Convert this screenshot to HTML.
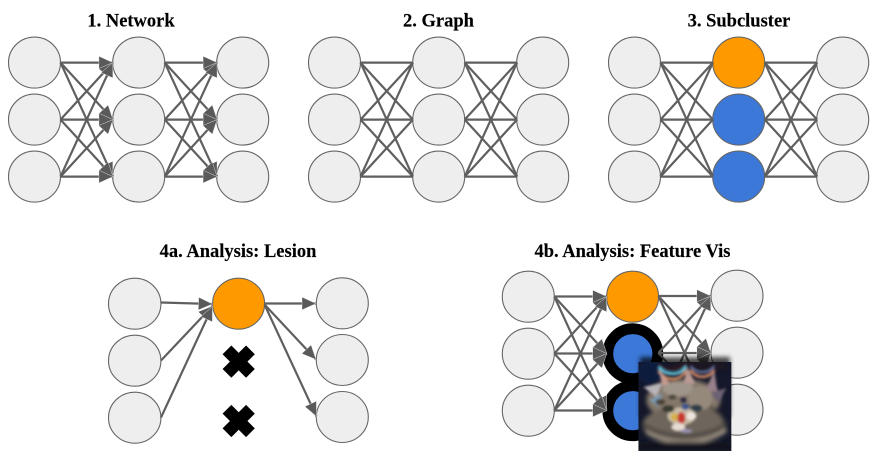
<!DOCTYPE html>
<html><head><meta charset="utf-8"><style>
html,body{margin:0;padding:0;background:#fff;width:881px;height:460px;overflow:hidden}
svg{display:block}
#root{filter:blur(.3px)}
text{font-family:"Liberation Serif",serif;font-weight:bold;font-size:18.5px;text-anchor:middle;fill:#000;stroke:#000;stroke-width:.15}
.n ellipse{fill:#eee;stroke:#666;stroke-width:1.1}
.n ellipse.o{fill:#f90}
.n ellipse.b{fill:#3c78d8}
.e line{stroke:#5f5f5f;stroke-width:2.2}
.a line{marker-end:url(#h)}
</style></head><body>
<svg id="root" width="881" height="460" viewBox="0 0 881 460" xmlns="http://www.w3.org/2000/svg">
<defs>
<marker id="h" markerUnits="userSpaceOnUse" markerWidth="18" markerHeight="16" refX="15" refY="8" orient="auto"><path d="M1 1.6L15 8L1 14.4Z" fill="#5a5a5a" stroke="#fff" stroke-width=".35"/></marker>
<g id="E" stroke="#5f5f5f" stroke-width="2.2">
<line x1="0" y1="0" x2="52.4" y2="0"/><line x1="0" y1="0" x2="52.4" y2="57"/><line x1="0" y1="0" x2="52.4" y2="114"/>
<line x1="0" y1="57" x2="52.4" y2="0"/><line x1="0" y1="57" x2="52.4" y2="57"/><line x1="0" y1="57" x2="52.4" y2="114"/>
<line x1="0" y1="114" x2="52.4" y2="0"/><line x1="0" y1="114" x2="52.4" y2="57"/><line x1="0" y1="114" x2="52.4" y2="114"/>
</g>
<g id="A" stroke="#5f5f5f" stroke-width="2.2" marker-end="url(#h)">
<line x1="0" y1="0" x2="52.4" y2="0"/><line x1="0" y1="0" x2="52.4" y2="57"/><line x1="0" y1="0" x2="52.4" y2="114"/>
<line x1="0" y1="57" x2="52.4" y2="0"/><line x1="0" y1="57" x2="52.4" y2="57"/><line x1="0" y1="57" x2="52.4" y2="114"/>
<line x1="0" y1="114" x2="52.4" y2="0"/><line x1="0" y1="114" x2="52.4" y2="57"/><line x1="0" y1="114" x2="52.4" y2="114"/>
</g>
<filter id="s" x="-30%" y="-30%" width="160%" height="160%"><feGaussianBlur stdDeviation="2.5"/></filter>
<filter id="c1" x="-20%" y="-20%" width="140%" height="140%"><feGaussianBlur stdDeviation="2.2"/></filter>
<filter id="c2" x="-20%" y="-20%" width="140%" height="140%"><feGaussianBlur stdDeviation="1.2"/></filter>
<clipPath id="cc"><rect width="93" height="89"/></clipPath>
</defs>

<text x="131" y="26.5">1. Network</text>
<text x="438.5" y="26.5">2. Graph</text>
<text x="739" y="26.5">3. Subcluster</text>
<text x="238" y="257">4a. Analysis: Lesion</text>
<text x="632.5" y="257">4b. Analysis: Feature Vis</text>

<!-- Panel 1 -->
<g class="n">
<ellipse cx="34.5" cy="62.6" rx="26" ry="25.5"/><ellipse cx="34.5" cy="119.6" rx="26" ry="25.5"/><ellipse cx="34.5" cy="176.6" rx="26" ry="25.5"/>
<ellipse cx="138.7" cy="62.6" rx="26" ry="25.5"/><ellipse cx="138.7" cy="119.6" rx="26" ry="25.5"/><ellipse cx="138.7" cy="176.6" rx="26" ry="25.5"/>
<ellipse cx="242.7" cy="62.6" rx="26" ry="25.5"/><ellipse cx="242.7" cy="119.6" rx="26" ry="25.5"/><ellipse cx="242.7" cy="176.6" rx="26" ry="25.5"/>
</g>
<use href="#A" transform="translate(60.5,62.6)"/><use href="#A" transform="translate(164.7,62.6)"/>

<!-- Panel 2 -->
<g class="n">
<ellipse cx="334.5" cy="62.6" rx="26" ry="25.5"/><ellipse cx="334.5" cy="119.6" rx="26" ry="25.5"/><ellipse cx="334.5" cy="176.6" rx="26" ry="25.5"/>
<ellipse cx="438.7" cy="62.6" rx="26" ry="25.5"/><ellipse cx="438.7" cy="119.6" rx="26" ry="25.5"/><ellipse cx="438.7" cy="176.6" rx="26" ry="25.5"/>
<ellipse cx="542.7" cy="62.6" rx="26" ry="25.5"/><ellipse cx="542.7" cy="119.6" rx="26" ry="25.5"/><ellipse cx="542.7" cy="176.6" rx="26" ry="25.5"/>
</g>
<use href="#E" transform="translate(360.5,62.6)"/><use href="#E" transform="translate(464.7,62.6)"/>

<!-- Panel 3 -->
<g class="n">
<ellipse cx="634.5" cy="62.6" rx="26" ry="25.5"/><ellipse cx="634.5" cy="119.6" rx="26" ry="25.5"/><ellipse cx="634.5" cy="176.6" rx="26" ry="25.5"/>
<ellipse class="o" cx="738.7" cy="62.6" rx="26" ry="25.5"/><ellipse class="b" cx="738.7" cy="119.6" rx="26" ry="25.5"/><ellipse class="b" cx="738.7" cy="176.6" rx="26" ry="25.5"/>
<ellipse cx="842.7" cy="62.6" rx="26" ry="25.5"/><ellipse cx="842.7" cy="119.6" rx="26" ry="25.5"/><ellipse cx="842.7" cy="176.6" rx="26" ry="25.5"/>
</g>
<use href="#E" transform="translate(660.5,62.6)"/><use href="#E" transform="translate(764.7,62.6)"/>

<!-- Panel 4a -->
<g class="n">
<ellipse cx="134.7" cy="303.7" rx="26.2" ry="25.5"/><ellipse cx="134.7" cy="360.7" rx="26.2" ry="25.5"/><ellipse cx="134.7" cy="417.7" rx="26.2" ry="25.5"/>
<ellipse class="o" cx="238.6" cy="303.7" rx="26" ry="25.5"/>
<ellipse cx="342.3" cy="303.3" rx="26" ry="25.5"/><ellipse cx="342.3" cy="360" rx="26" ry="25.5"/><ellipse cx="342.3" cy="417" rx="26" ry="25.5"/>
</g>
<g class="e a">
<line x1="161" y1="302.5" x2="212.5" y2="304"/>
<line x1="161" y1="360.5" x2="212.5" y2="306"/>
<line x1="161" y1="417.5" x2="212.5" y2="306.5"/>
<line x1="264.5" y1="303.5" x2="316" y2="303.5"/>
<line x1="264.5" y1="304.5" x2="316" y2="359.5"/>
<line x1="264.5" y1="304.5" x2="316.5" y2="416.5"/>
</g>
<g fill="#000">
<g transform="translate(238.7,361.6) rotate(45)"><rect x="-16.6" y="-6.2" width="33.2" height="12.4"/><rect x="-6.2" y="-16.6" width="12.4" height="33.2"/></g>
<g transform="translate(238.7,421) rotate(45)"><rect x="-16.6" y="-6.2" width="33.2" height="12.4"/><rect x="-6.2" y="-16.6" width="12.4" height="33.2"/></g>
</g>

<!-- Panel 4b -->
<g class="n">
<ellipse cx="528.3" cy="296.7" rx="26" ry="25.5"/><ellipse cx="528.3" cy="353.7" rx="26" ry="25.5"/><ellipse cx="528.3" cy="410.7" rx="26" ry="25.5"/>
<ellipse cx="737" cy="295.7" rx="26" ry="25.5"/><ellipse cx="737" cy="352.7" rx="26" ry="25.5"/><ellipse cx="737" cy="409.7" rx="26" ry="25.5"/>
<ellipse class="o" cx="632.6" cy="296.7" rx="26" ry="25.5"/>
</g>
<circle cx="632.8" cy="353.7" r="25" fill="#3c78d8" stroke="#000" stroke-width="10.8"/>
<circle cx="632.8" cy="410.7" r="25" fill="#3c78d8" stroke="#000" stroke-width="10.8"/>
<use href="#A" transform="translate(554.3,296.5)"/><use href="#A" transform="translate(658.4,296)"/>

<!-- Feature visualisation image -->
<rect x="640" y="357" width="90" height="60" fill="#000" opacity=".7" filter="url(#s)"/>
<g transform="translate(638.4,362)">
<svg width="93" height="89" viewBox="0 0 93 89">
<g clip-path="url(#cc)">
<rect width="93" height="89" fill="#14182a"/>
<g filter="url(#c1)">
<ellipse cx="12" cy="10" rx="14" ry="12" fill="#0c1a3c"/>
<ellipse cx="60" cy="4" rx="30" ry="6" fill="#1a1420"/>
<ellipse cx="45" cy="38" rx="37" ry="21" fill="#85786a"/>
<ellipse cx="46" cy="63" rx="42" ry="19" fill="#6e665c"/>
<path d="M4 62C25 78 70 78 90 60" stroke="#2c2b30" stroke-width="2.5" fill="none"/>
<path d="M8 70C28 84 68 84 88 68" stroke="#a09484" stroke-width="3.5" fill="none"/>
<path d="M70 44C82 50 86 56 86 62" stroke="#2c2b30" stroke-width="2.5" fill="none"/>
<rect x="0" y="80" width="93" height="9" fill="#101018" opacity=".8"/>
</g>
<g filter="url(#c2)">
<path d="M20 9C28 20 42 20 48 8" stroke="#c8855c" stroke-width="3" fill="none"/>
<path d="M20 5C28 14 42 14 48 4" stroke="#62c1d6" stroke-width="3" fill="none"/>
<path d="M20 2C28 9 42 9 48 1" stroke="#3a1a20" stroke-width="2" fill="none"/>
<path d="M52 8C58 17 70 17 76 8" stroke="#c08060" stroke-width="3" fill="none"/>
<path d="M52 4C58 12 70 12 76 4" stroke="#5d6f9c" stroke-width="2.5" fill="none"/>
<path d="M20 7L24 24L32 22Z" fill="#c49a90"/>
<path d="M49 5L45 22L57 22Z" fill="#b99a94"/>
<path d="M76 9L67 28L79 30Z" fill="#98808a"/>
<path d="M5 25L24 21L18 35Z" fill="#b8b4b8"/>
<path d="M11 38L24 31L20 45Z" fill="#7a9ab2"/>
<path d="M72 31L88 26L80 41Z" fill="#6c6274"/>
<ellipse cx="40" cy="27" rx="16" ry="7" fill="#a0958a"/>
<ellipse cx="62" cy="36" rx="12" ry="12" fill="#95897b"/>
<ellipse cx="43" cy="54" rx="14" ry="9" fill="#c8bba5"/>
<ellipse cx="22" cy="40" rx="5" ry="3" fill="#4b4538"/>
<ellipse cx="34" cy="35" rx="4" ry="2.5" fill="#4b4538"/>
<ellipse cx="30" cy="47" rx="6" ry="3.5" fill="#3b3a30"/>
<ellipse cx="58" cy="46" rx="6" ry="3.5" fill="#2e3e48"/>
<ellipse cx="45" cy="38" rx="3" ry="3" fill="#2a2a40"/>
<ellipse cx="47" cy="45" rx="4" ry="3" fill="#3a5590"/>
<ellipse cx="36" cy="55" rx="3.5" ry="4" fill="#d8b04a"/>
<ellipse cx="53" cy="54" rx="5" ry="4" fill="#eee6de"/>
<ellipse cx="43" cy="56" rx="4" ry="6" fill="#c8392e"/>
<ellipse cx="40" cy="65" rx="7" ry="4" fill="#e6dcd2"/>
<ellipse cx="48" cy="69" rx="6" ry="2" fill="#9890b0"/>
</g>
</g>
</svg>
</g>
</svg>
</body></html>
